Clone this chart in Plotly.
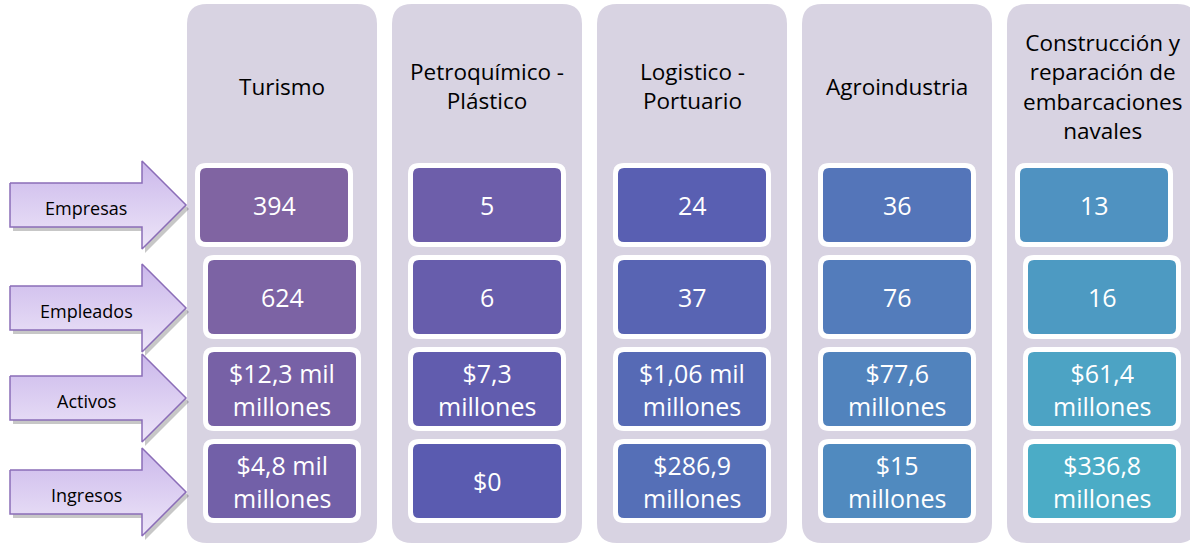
import plotly.graph_objects as go
import colorsys

# ---- data ----
sectors = ["Turismo", "Petroquímico -<br>Plástico", "Logistico -<br>Portuario",
           "Agroindustria", "Construcción y<br>reparación de<br>embarcaciones<br>navales"]
metrics = ["Empresas", "Empleados", "Activos", "Ingresos"]
empresas = ["394", "5", "24", "36", "13"]
empleados = ["624", "6", "37", "76", "16"]
activos = ["$12,3 mil<br>millones", "$7,3<br>millones", "$1,06 mil<br>millones",
           "$77,6<br>millones", "$61,4<br>millones"]
ingresos = ["$4,8 mil<br>millones", "$0", "$286,9<br>millones",
            "$15<br>millones", "$336,8<br>millones"]
values = [empresas, empleados, activos, ingresos]

# ---- layout constants (pixels) ----
W, H = 1190, 544
col_left0, col_step, col_w = 187, 205, 190
col_top, col_bot = 4, 543
row_c0, row_step = 205, 92
cell_w, cell_h = 148, 74
border = 5
row1_shift = [-8, 0, 0, 0, -8]
arrow_tips = [205, 308, 398, 492]
FONT = "Open Sans"

col_fill = "#D8D3E2"
c_start, c_end = "#8064A2", "#4BACC6"


def hex_hls(h):
    r, g, b = (int(h[i:i + 2], 16) / 255 for i in (1, 3, 5))
    return colorsys.rgb_to_hls(r, g, b)


def cell_color(k, n):
    h1, l1, s1 = hex_hls(c_start)
    h2, l2, s2 = hex_hls(c_end)
    t = k / (n - 1)
    r, g, b = colorsys.hls_to_rgb(h1 + (h2 - h1) * t, l1 + (l2 - l1) * t, s1 + (s2 - s1) * t)
    return "rgb(%d,%d,%d)" % (round(r * 255), round(g * 255), round(b * 255))


def rrect(x0, y0, x1, y1, r):
    return (f"M{x0 + r},{y0} L{x1 - r},{y0} Q{x1},{y0} {x1},{y0 + r} "
            f"L{x1},{y1 - r} Q{x1},{y1} {x1 - r},{y1} L{x0 + r},{y1} "
            f"Q{x0},{y1} {x0},{y1 - r} L{x0},{y0 + r} Q{x0},{y0} {x0 + r},{y0} Z")


fig = go.Figure()
shapes = []
annotations = []

ncells = len(sectors) * len(metrics)
for i, sec in enumerate(sectors):
    x0 = col_left0 + i * col_step
    cx = x0 + col_w / 2
    shapes.append(dict(type="path", path=rrect(x0, col_top, x0 + col_w, col_bot, 20),
                       fillcolor=col_fill, line=dict(width=0), layer="below"))
    annotations.append(dict(x=cx, y=86, text=sec, showarrow=False, xanchor="center",
                            yanchor="middle", font=dict(family=FONT, size=22.5, color="black")))
    for j, vals in enumerate(values):
        ccx = cx + (row1_shift[i] if j == 0 else 0)
        cy = row_c0 + j * row_step
        a, b = ccx - cell_w / 2, cy - cell_h / 2
        shapes.append(dict(type="path",
                           path=rrect(a - border, b - border, a + cell_w + border, b + cell_h + border, 11),
                           fillcolor="white", line=dict(width=0)))
        shapes.append(dict(type="path", path=rrect(a, b, a + cell_w, b + cell_h, 6),
                           fillcolor=cell_color(i * len(metrics) + j, ncells), line=dict(width=0)))
        annotations.append(dict(x=ccx, y=cy, text=vals[i], showarrow=False, xanchor="center",
                                yanchor="middle", font=dict(family=FONT, size=25, color="white")))

# arrows
bx0, hx, tip = 10, 142, 186
bh, hh = 22, 44
for m, ty in zip(metrics, arrow_tips):
    xs = [bx0, hx, hx, tip, hx, hx, bx0, bx0]
    ys = [ty - bh, ty - bh, ty - hh, ty, ty + hh, ty + bh, ty + bh, ty - bh]
    fig.add_trace(go.Scatter(x=[v + 3 for v in xs], y=[v + 4 for v in ys], mode="lines",
                             fill="toself", fillcolor="rgba(0,0,0,0.22)",
                             line=dict(width=0), hoverinfo="skip", showlegend=False))
    fig.add_trace(go.Scatter(x=xs, y=ys, mode="lines", fill="toself",
                             fillgradient=dict(type="vertical",
                                               colorscale=[[0, "#EDE5F8"], [1, "#CBB8EB"]]),
                             line=dict(color="#8B6DB8", width=1.5),
                             hoverinfo="skip", showlegend=False))
    annotations.append(dict(x=86, y=ty + 3, text=m, showarrow=False, xanchor="center",
                            yanchor="middle", font=dict(family=FONT, size=18, color="black")))

fig.update_layout(width=W, height=H, margin=dict(l=0, r=0, t=0, b=0),
                  paper_bgcolor="white", plot_bgcolor="white",
                  shapes=shapes, annotations=annotations, showlegend=False)
fig.update_xaxes(range=[0, W], visible=False, fixedrange=True)
fig.update_yaxes(range=[H, 0], visible=False, fixedrange=True)

fig.write_html("out.html", config={"displayModeBar": False},
               post_script="document.body.style.margin='0';")
